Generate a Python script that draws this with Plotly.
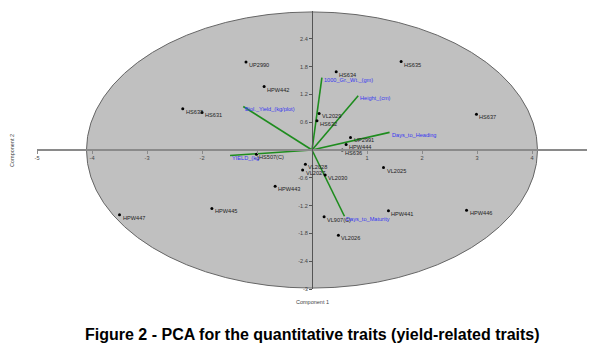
import plotly.graph_objects as go

# ---- data ----
genotypes = ["UP2990", "HPW442", "HS633", "HS631", "HS634", "HS635", "HS637",
             "VL2029", "HS632", "UP2991", "HPW444", "HS636", "VL2028", "VL2027",
             "VL2030", "HPW443", "VL2025", "HPW441", "HPW446", "VL907(C)",
             "VL2026", "HPW445", "HPW447", "HS507(C)"]
pc1 = [-1.20, -0.87, -2.35, -2.00, 0.44, 1.62, 2.99,
       0.13, 0.09, 0.70, 0.62, 0.55, -0.12, -0.17,
       0.24, -0.67, 1.30, 1.39, 2.81, 0.22,
       0.48, -1.82, -3.50, -1.01]
pc2 = [1.90, 1.37, 0.89, 0.81, 1.69, 1.91, 0.77,
       0.79, 0.63, 0.27, 0.12, 0.00, -0.31, -0.43,
       -0.54, -0.78, -0.38, -1.31, -1.30, -1.44,
       -1.84, -1.26, -1.40, -0.09]

traits = ["1000_Gr._Wt._(gm)", "Height_(cm)", "Days_to_Heading",
          "Biol._Yield_(kg/plot)", "YIELD_(kg", "Days_to_Maturity"]
load1 = [0.18, 0.84, 1.41, -1.25, -1.49, 0.59]
load2 = [1.56, 1.17, 0.38, 0.94, -0.12, -1.43]

# 95% ellipse semi-axes (component units)
ellipse_rx = 4.10
ellipse_ry = 2.98

x_ticks = [-5, -4, -3, -2, -1, 1, 2, 3, 4]
y_ticks = [-3, -2.4, -1.8, -1.2, -0.6, 0.6, 1.2, 1.8, 2.4]
y_ticktext = ["-3", "-2.4", "-1.8", "-1.2", "-0.6", "0.6", "1.2", "1.8", "2.4"]

caption = "Figure 2 - PCA for the quantitative traits (yield-related traits)"

FONT = "Arial, Liberation Sans, sans-serif"
SMALL = 5.6

fig = go.Figure()

# loading vectors
lx, ly = [], []
for a, b in zip(load1, load2):
    lx += [0, a, None]
    ly += [0, b, None]
fig.add_trace(go.Scatter(x=lx, y=ly, mode="lines",
                         line=dict(color="#1e8c1e", width=1.6),
                         hoverinfo="skip", showlegend=False))

# genotype points
fig.add_trace(go.Scatter(x=pc1, y=pc2, mode="markers",
                         marker=dict(color="black", size=3),
                         text=genotypes, hoverinfo="text", showlegend=False))

annotations = []
for name, a, b in zip(genotypes, pc1, pc2):
    annotations.append(dict(x=a, y=b, xref="x", yref="y", text=name,
                            showarrow=False, xanchor="left", yanchor="middle",
                            xshift=1, yshift=-3,
                            font=dict(family=FONT, size=SMALL, color="#222")))
for name, a, b in zip(traits, load1, load2):
    annotations.append(dict(x=a, y=b, xref="x", yref="y", text=name,
                            showarrow=False, xanchor="left", yanchor="middle",
                            xshift=0, yshift=-2.5,
                            font=dict(family=FONT, size=SMALL, color="#3535f0")))

annotations.append(dict(x=0.5, y=-0.047, xref="paper", yref="paper",
                        text="Component 1", showarrow=False,
                        xanchor="center", yanchor="middle",
                        font=dict(family=FONT, size=5.5, color="#444")))
annotations.append(dict(x=-0.0455, y=0.5, xref="paper", yref="paper",
                        text="Component 2", showarrow=False, textangle=-90,
                        xanchor="center", yanchor="middle",
                        font=dict(family=FONT, size=5.5, color="#444")))
annotations.append(dict(x=0.5, y=-0.165, xref="paper", yref="paper",
                        text="<b>" + caption + "</b>", showarrow=False,
                        xanchor="center", yanchor="middle",
                        font=dict(family=FONT, size=16, color="black")))

fig.update_layout(
    width=597, height=355, autosize=False,
    margin=dict(l=37, r=10, t=11, b=66),
    paper_bgcolor="white", plot_bgcolor="white",
    showlegend=False,
    shapes=[dict(type="circle", xref="x", yref="y",
                 x0=-ellipse_rx, x1=ellipse_rx, y0=-ellipse_ry, y1=ellipse_ry,
                 fillcolor="#c0c0c0", line=dict(color="#666666", width=1),
                 layer="below")],
    annotations=annotations,
    xaxis=dict(range=[-5, 5], anchor="free", position=0.5,
               showgrid=False, zeroline=False, showline=True,
               linecolor="#8a8a8a", linewidth=1.5,
               ticks="outside", ticklen=3, tickcolor="#8a8a8a",
               tickvals=x_ticks, ticktext=[str(v) for v in x_ticks],
               tickfont=dict(family=FONT, size=SMALL, color="#444"),
               automargin=False, fixedrange=True),
    yaxis=dict(range=[-3, 3], anchor="free", position=0.5,
               showgrid=False, zeroline=False, showline=True,
               linecolor="#555555", linewidth=1,
               ticks="outside", ticklen=3, tickcolor="#555555",
               tickvals=y_ticks, ticktext=y_ticktext,
               tickfont=dict(family=FONT, size=SMALL, color="#444"),
               automargin=False, fixedrange=True),
)

fig.write_html("out.html", config={"displayModeBar": False},
               post_script="document.body.style.margin='0';document.body.style.overflow='hidden';")
